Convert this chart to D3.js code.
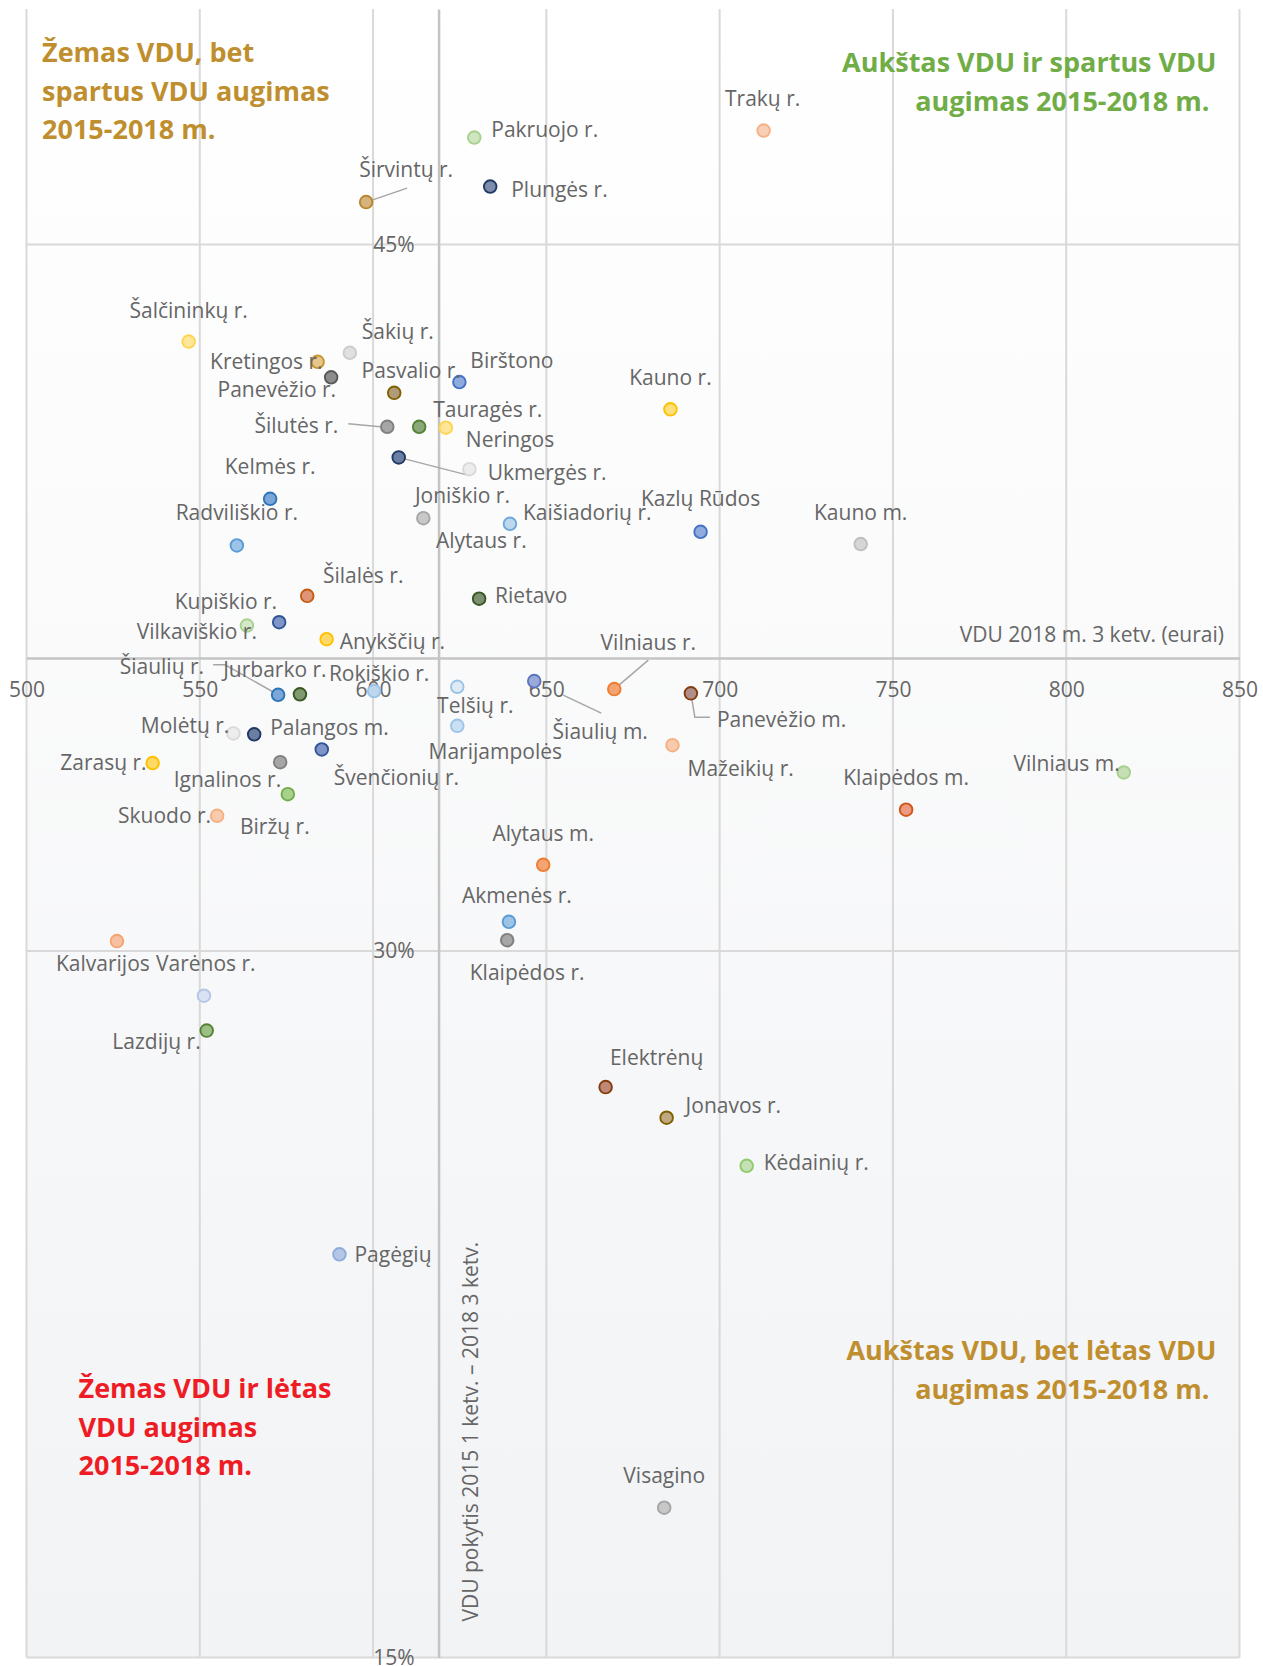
<!DOCTYPE html>
<html>
<head>
<meta charset="utf-8">
<script src="https://cdn.jsdelivr.net/npm/d3@7"></script>
<style>
  body { margin: 0; background: #fff; }
  svg { display: block; font-family: "Open Sans", sans-serif; }
</style>
</head>
<body>
<div id="chart"></div>
<script>
// savivaldybės: VDU 2018 m. 3 ketv. (eurai) ir VDU pokytis 2015 1 ketv. - 2018 3 ketv. (%)

var names = ["Trakų r.", "Pakruojo r.", "Plungės r.", "Širvintų r.", "Šalčininkų r.", "Šakių r.",
  "Kretingos r.", "Panevėžio r.", "Pasvalio r.", "Birštono", "Kauno r.", "Šilutės r.",
  "Tauragės r.", "Neringos", "Ukmergės r.", "Joniškio r.", "Kelmės r.", "Radviliškio r.",
  "Alytaus r.", "Kaišiadorių r.", "Kazlų Rūdos", "Kauno m.", "Šilalės r.", "Rietavo",
  "Kupiškio r.", "Vilkaviškio r.", "Anykščių r.", "Vilniaus r.", "Šiaulių r.", "Jurbarko r.",
  "Rokiškio r.", "Telšių r.", "Šiaulių m.", "Panevėžio m.", "Molėtų r.", "Palangos m.",
  "Švenčionių r.", "Marijampolės", "Mažeikių r.", "Zarasų r.", "Ignalinos r.", "Biržų r.",
  "Skuodo r.", "Klaipėdos m.", "Vilniaus m.", "Alytaus m.", "Akmenės r.", "Klaipėdos r.",
  "Kalvarijos", "Varėnos r.", "Lazdijų r.", "Elektrėnų", "Jonavos r.", "Kėdainių r.",
  "Pagėgių", "Visagino"];

var vdu = [712.7, 629.2, 633.8, 598.0, 546.8, 593.3,
  584.0, 587.9, 606.1, 624.9, 685.8, 604.1,
  613.3, 621.0, 607.4, 627.8, 570.3, 560.7,
  614.5, 639.5, 694.5, 740.7, 581.0, 630.6,
  572.9, 563.6, 586.6, 669.6, 572.6, 578.9,
  600.3, 624.3, 646.5, 691.7, 559.7, 565.7,
  585.2, 624.3, 686.4, 536.4, 573.2, 575.4,
  555.0, 753.8, 816.6, 649.1, 639.2, 638.7,
  526.1, 551.2, 552.0, 667.1, 684.7, 707.8,
  590.3, 684.0];

var growth = [47.42, 47.27, 46.23, 45.90, 42.94, 42.70,
  42.51, 42.18, 41.85, 42.08, 41.50, 41.13,
  41.13, 41.11, 40.48, 40.23, 39.60, 38.61,
  39.19, 39.07, 38.90, 38.64, 37.54, 37.48,
  36.98, 36.91, 36.62, 35.56, 35.44, 35.45,
  35.52, 35.61, 35.73, 35.47, 34.62, 34.60,
  34.28, 34.78, 34.37, 33.99, 34.01, 33.33,
  32.87, 33.00, 33.79, 31.83, 30.62, 30.23,
  30.21, 29.05, 28.31, 27.11, 26.46, 25.44,
  23.56, 18.18];

var xTicks = [500, 550, 600, 650, 700, 750, 800, 850];
var yTicks = [15, 30, 45];
var xCross = 618.9;   // kur kertasi ašys
var yCross = 36.22;

var xTitle = "VDU 2018 m. 3 ketv. (eurai)";
var yTitle = "VDU pokytis 2015 1 ketv. – 2018 3 ketv.";

var quadrants = [
  {lines: ["Žemas VDU, bet", "spartus VDU augimas", "2015-2018 m."], color: "#bf8f2f", corner: "tl"},
  {lines: ["Aukštas VDU ir spartus VDU", "augimas 2015-2018 m."], color: "#70ad47", corner: "tr"},
  {lines: ["Žemas VDU ir lėtas", "VDU augimas", "2015-2018 m."], color: "#ee1c25", corner: "bl"},
  {lines: ["Aukštas VDU, bet lėtas VDU", "augimas 2015-2018 m."], color: "#bf8f2f", corner: "br"}
];

// marker colours [stroke, fill], same order as names
var markerColors = [
  ["#f4b183", "#f8cfb5"], ["#a9d18e", "#cfe5c0"], ["#203864", "#7c8cab"], ["#b8862b", "#d6b37c"],
  ["#ffd54f", "#ffe699"], ["#cccccc", "#e0e0e0"], ["#c9962c", "#e8c58a"], ["#595959", "#8c8c8c"],
  ["#7f6000", "#b09a78"], ["#4472c4", "#8faadc"], ["#ffc000", "#ffdf7a"], ["#7f7f7f", "#a6a6a6"],
  ["#548235", "#8aa879"], ["#ffd54f", "#ffe699"], ["#203864", "#6b7fa3"], ["#d9d9d9", "#ececec"],
  ["#2e75b6", "#7aa6d9"], ["#5b9bd5", "#9dc3e6"], ["#a6a6a6", "#c8c8c8"], ["#6fa8dc", "#bdd7ee"],
  ["#4472c4", "#8faadc"], ["#bfbfbf", "#d6d6d6"], ["#c55a11", "#e0957a"], ["#385723", "#7a9070"],
  ["#2f5597", "#7f95c8"], ["#a9d18e", "#d5e8c8"], ["#ffc000", "#ffd966"], ["#ed7d31", "#f4a470"],
  ["#2e75b6", "#7aa6d9"], ["#385723", "#7f9a6e"], ["#9dc3e6", "#bdd7ee"], ["#9dc3e6", "#deebf7"],
  ["#5b76c0", "#9aaad8"], ["#843c0c", "#b08f8a"], ["#d9d9d9", "#ededed"], ["#203864", "#6b7fa3"],
  ["#2f5597", "#7f95c8"], ["#9dc3e6", "#c9dff2"], ["#f4b183", "#f8cbad"], ["#ffc000", "#ffd966"],
  ["#7f7f7f", "#a6a6a6"], ["#70ad47", "#a9d18e"], ["#f4b183", "#f8cbad"], ["#d0571c", "#ec9a80"],
  ["#a9d18e", "#c5e0b4"], ["#ed7d31", "#f4a470"], ["#5b9bd5", "#9dc3e6"], ["#7f7f7f", "#a6a6a6"],
  ["#f4a470", "#f8c0a0"], ["#b4c7e7", "#d9e2f3"], ["#548235", "#9cbf85"], ["#843c0c", "#c08878"],
  ["#806000", "#c0a880"], ["#8fca6c", "#c5e0b4"], ["#8faadc", "#b4c7e7"], ["#a6a6a6", "#c8c8c8"]
];

// label placement [anchor, dx, dy, leader points], same order as names
var labelPlace = [
  ["m", -1, -32], ["s", 17, -8], ["s", 21, 3], ["m", 40, -32, [[0, 0], [41, -14]]],
  ["m", 0, -31], ["m", 48, -21], ["e", 5, 0], ["e", 5, 12],
  ["m", 17, -22], ["s", 11, -21], ["m", 0, -32], ["e", -49, -1, [[-39, -3], [-7, 0]]],
  ["s", 14, -17], ["s", 20, 12], ["s", 89, 15, [[0, 0], [70, 18]]], ["m", -7, 26],
  ["m", 0, -32], ["m", 0, -33], ["m", 58, 22], ["s", 13, -11],
  ["m", 0, -33], ["m", 0, -31], ["m", 56, -20], ["s", 16, -3],
  ["e", -2, -21], ["e", 10, 6], ["s", 13, 2], ["m", 34, -46, [[0, 0], [34, -29]]],
  ["e", -74, -28, [[-65, -30], [-53, -30], [0, 0]]], ["m", -25, -25], ["m", 5, -17], ["m", 18, 19],
  ["m", 66, 51, [[29, 14], [67, 32]]], ["s", 26, 26, [[0, 0], [4, 24], [19, 24]]], ["e", -4, -8], ["s", 16, -7],
  ["s", 12, 28], ["m", 38, 26], ["s", 15, 23], ["e", -6, 0],
  ["e", 1, 18], ["m", -13, 32], ["e", -6, 0], ["m", 0, -32],
  ["e", -4, -9], ["m", 0, -31], ["m", 8, -26], ["m", 20, 32],
  ["s", -61, 23], ["s", -48, -32], ["e", -6, 11], ["m", 51, -29],
  ["s", 19, -12], ["s", 17, -3], ["s", 15, 0], ["m", 0, -32]
];

var totalWidth = 1263, totalHeight = 1666;
var margin = {left: 26.5, right: 23.5, top: 9, bottom: 8.5};
var width = totalWidth - margin.left - margin.right;
var height = totalHeight - margin.top - margin.bottom;

var svg = d3.select("#chart").append("svg")
  .attr("width", totalWidth)
  .attr("height", totalHeight);

var defs = svg.append("defs");
var grad = defs.append("linearGradient").attr("id", "bg").attr("x1", 0).attr("y1", 0).attr("x2", 0).attr("y2", 1);
grad.append("stop").attr("offset", "0%").attr("stop-color", "#ffffff");
grad.append("stop").attr("offset", "100%").attr("stop-color", "#f2f3f5");

var g = svg.append("g").attr("transform", "translate(" + margin.left + "," + margin.top + ")");

var x = d3.scaleLinear().domain([500, 850]).range([0, width]);
var y = d3.scaleLinear().domain([15, 50]).range([height, 0]);

g.append("rect").attr("width", width).attr("height", height).attr("fill", "url(#bg)");

// gridlines
g.append("g").selectAll("line").data(xTicks).enter().append("line")
  .attr("x1", function(d) { return x(d); })
  .attr("x2", function(d) { return x(d); })
  .attr("y1", 0).attr("y2", height)
  .attr("stroke", "#d9d9d9").attr("stroke-width", 2);

g.append("g").selectAll("line").data(yTicks).enter().append("line")
  .attr("x1", 0).attr("x2", width)
  .attr("y1", function(d) { return y(d); })
  .attr("y2", function(d) { return y(d); })
  .attr("stroke", "#d9d9d9").attr("stroke-width", 2);

// axes crossing at the averages
var xAxis = g.append("g")
  .attr("transform", "translate(0," + y(yCross) + ")")
  .call(d3.axisBottom(x).tickValues(xTicks).tickSize(0).tickSizeOuter(0).tickPadding(24));

var yAxis = g.append("g")
  .attr("transform", "translate(" + x(xCross) + ",0)")
  .call(d3.axisLeft(y).tickValues(yTicks).tickFormat(function(d) { return d + "%"; })
    .tickSize(0).tickSizeOuter(0).tickPadding(24));

[xAxis, yAxis].forEach(function(ax) {
  ax.select(".domain").attr("stroke", "#c4c4c4").attr("stroke-width", 2.5);
  ax.selectAll("text").attr("fill", "#666").style("font-size", "21px").style("font-family", "Open Sans");
});

g.append("text")
  .attr("x", width - 15.5)
  .attr("y", y(yCross) - 23)
  .attr("dy", "0.35em")
  .attr("text-anchor", "end")
  .attr("fill", "#666")
  .style("font-size", "21px")
  .text(xTitle);

g.append("text")
  .attr("transform", "translate(" + (x(xCross) + 32) + "," + (height - 36) + ") rotate(-90)")
  .attr("dy", "0.35em")
  .attr("fill", "#666")
  .style("font-size", "21px")
  .text(yTitle);

// data rows
var dataset = names.map(function(n, i) {
  return {name: n, vdu: vdu[i], growth: growth[i], col: markerColors[i], place: labelPlace[i]};
});

// leader lines
var line = d3.line();
g.append("g").selectAll("path")
  .data(dataset.filter(function(d) { return d.place[3]; }))
  .enter().append("path")
  .attr("d", function(d) {
    var px = x(d.vdu), py = y(d.growth);
    return line(d.place[3].map(function(p) { return [px + p[0], py + p[1]]; }));
  })
  .attr("fill", "none")
  .attr("stroke", "#a6a6a6")
  .attr("stroke-width", 1.5);

// markers
g.append("g").selectAll("circle").data(dataset).enter().append("circle")
  .attr("cx", function(d) { return x(d.vdu); })
  .attr("cy", function(d) { return y(d.growth); })
  .attr("r", 6.3)
  .attr("fill", function(d) { return d.col[1]; })
  .attr("stroke", function(d) { return d.col[0]; })
  .attr("stroke-width", 1.9);

// labels
var anchors = {m: "middle", s: "start", e: "end"};
g.append("g").selectAll("text").data(dataset).enter().append("text")
  .attr("x", function(d) { return x(d.vdu) + d.place[1]; })
  .attr("y", function(d) { return y(d.growth) + d.place[2]; })
  .attr("dy", "0.35em")
  .attr("text-anchor", function(d) { return anchors[d.place[0]]; })
  .attr("fill", "#666")
  .style("font-size", "21px")
  .text(function(d) { return d.name; });

// quadrant notes
var lineH = 38.5;
quadrants.forEach(function(q) {
  var right = q.corner[1] == "r";
  var top = q.corner[0] == "t";
  var tx = right ? width - 23 : (top ? 15.5 : 52);
  var ty = top ? (right ? 54 : 44) : (right ? 1342 : 1380);
  var t = g.append("text")
    .attr("text-anchor", right ? "end" : "start")
    .attr("fill", q.color)
    .style("font-size", "27px")
    .style("font-weight", "bold");
  q.lines.forEach(function(l, i) {
    t.append("tspan")
      .attr("x", tx - (right && i > 0 ? 7 : 0))
      .attr("y", ty + i * lineH)
      .attr("dy", "0.35em")
      .text(l);
  });
});
</script>
</body>
</html>
